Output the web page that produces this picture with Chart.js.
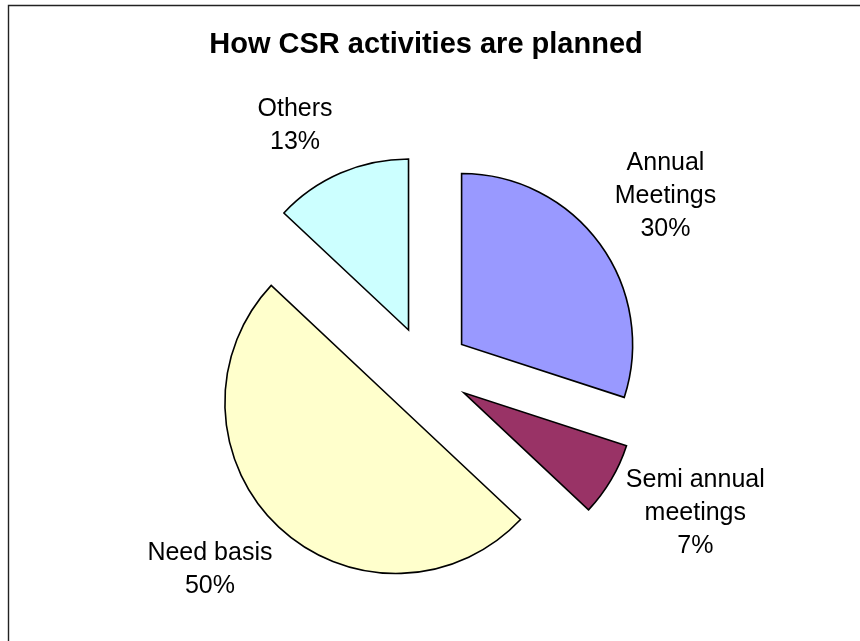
<!DOCTYPE html>
<html>
<head>
<meta charset="utf-8">
<script src="https://cdn.jsdelivr.net/npm/chart.js@4.4.1/dist/chart.umd.min.js"></script>
<style>
  html, body { margin: 0; padding: 0; background: #fff; }
  canvas { display: block; }
</style>
</head>
<body>
<canvas id="csrPie" width="860" height="641"></canvas>
<script>
'use strict';

// slices, clockwise from 12 o'clock
var categories = [['Annual', 'Meetings'], ['Semi annual', 'meetings'], ['Need basis'], ['Others']];
var shares = [30, 7, 50, 13];
var sliceColors = ['#9999FF', '#993366', '#FFFFCC', '#CCFFFF'];

var FONT = "'Liberation Sans', Arial, Helvetica, sans-serif";

// pulls every slice out from the centre along its own middle angle
var explodePlugin = {
  id: 'explode',
  afterDatasetUpdate: function(chart, args, opts) {
    var meta = chart.getDatasetMeta(args.index);
    meta.data.forEach(function(arc) {
      var mid = (arc.startAngle + arc.endAngle) / 2;
      arc.cx0 = arc.x;
      arc.cy0 = arc.y;
      arc.x += Math.cos(mid) * opts.distance;
      arc.y += Math.sin(mid) * opts.distance;
    });
  }
};

// category name + percentage written outside each slice
var sliceLabels = {
  id: 'sliceLabels',
  afterDatasetsDraw: function(chart, args, opts) {
    var ctx = chart.ctx;
    var meta = chart.getDatasetMeta(0);
    var values = chart.data.datasets[0].data;
    var total = values.reduce(function(a, b) { return a + b; }, 0);
    ctx.save();
    ctx.font = opts.size + 'px ' + FONT;
    ctx.fillStyle = '#000';
    ctx.textAlign = 'center';
    ctx.textBaseline = 'middle';
    meta.data.forEach(function(arc, i) {
      var mid = (arc.startAngle + arc.endAngle) / 2 + opts.turn[i] * Math.PI / 180;
      var r = opts.radius[i];
      var x = arc.cx0 + Math.cos(mid) * r;
      var y = arc.cy0 + Math.sin(mid) * r;
      var lines = chart.data.labels[i].concat([Math.round(values[i] / total * 100) + '%']);
      lines.forEach(function(line, k) {
        ctx.fillText(line, x, y + (k - (lines.length - 1) / 2) * opts.lineHeight);
      });
    });
    ctx.restore();
  }
};

// chart frame: only the top and left edges fall inside the canvas
var frame = {
  id: 'frame',
  afterDraw: function(chart) {
    var ctx = chart.ctx;
    ctx.save();
    ctx.strokeStyle = '#222';
    ctx.lineWidth = 1.4;
    ctx.beginPath();
    ctx.moveTo(8.5, chart.height);
    ctx.lineTo(8.5, 5.5);
    ctx.lineTo(chart.width, 5.5);
    ctx.stroke();
    ctx.restore();
  }
};

var ctx = document.getElementById('csrPie').getContext('2d');
var csrPie = new Chart(ctx, {
  type: 'pie',
  data: {
    labels: categories,
    datasets: [{
      data: shares,
      backgroundColor: sliceColors,
      borderColor: '#000',
      borderWidth: 1.6,
      borderJoinStyle: 'miter'
    }]
  },
  options: {
    responsive: false,
    animation: false,
    radius: 171,
    layout: { padding: { left: 0, right: 8, top: 0, bottom: 0 } },
    plugins: {
      legend: { display: false },
      tooltip: { enabled: false },
      title: {
        display: true,
        text: 'How CSR activities are planned',
        color: '#000',
        font: { family: FONT, size: 29, weight: 'bold' },
        padding: { top: 28, bottom: 37 }
      },
      explode: { distance: 44 },
      sliceLabels: {
        size: 25,
        lineHeight: 33,
        radius: [296, 305, 294, 278],
        turn: [0, -2.6, 4.1, -4.7]
      }
    }
  },
  plugins: [explodePlugin, sliceLabels, frame]
});
</script>
</body>
</html>
